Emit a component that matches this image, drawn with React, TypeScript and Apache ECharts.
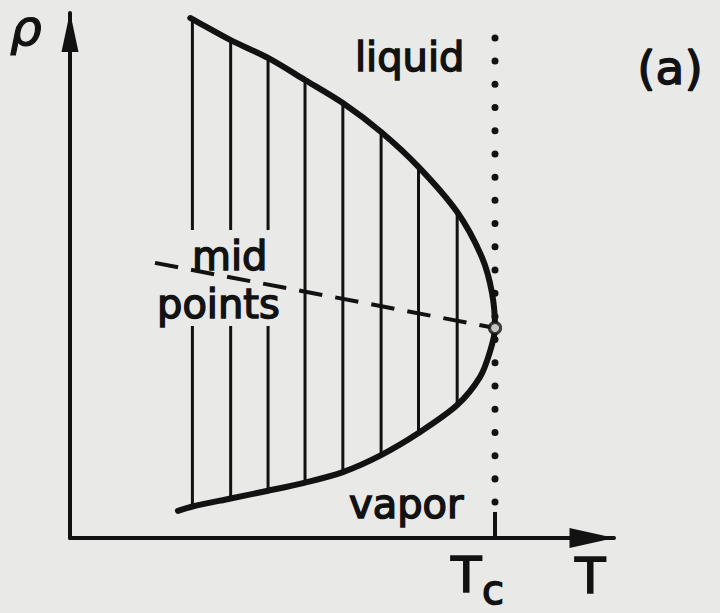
import React, { useEffect, useRef } from "react";
import * as echarts from "echarts";

// Reduced temperature / density of the coexistence diagram
const TC = 1.0;
const RHO_C = 1.0;

// Tie lines (isotherms inside the two-phase region)
const tieT = [0.288, 0.378, 0.466, 0.553, 0.642, 0.732, 0.82, 0.911];
const tieLiquid = [2.471, 2.371, 2.286, 2.181, 2.071, 1.933, 1.767, 1.552];
const tieVapor = [0.15, 0.188, 0.225, 0.264, 0.314, 0.395, 0.5, 0.633];

// Coexistence curve, liquid and vapor branches
const liquidT = [0.283, 0.288, 0.378, 0.466, 0.553, 0.642, 0.732, 0.82, 0.911, 0.969, 0.993, 1.0];
const liquidRho = [2.476, 2.471, 2.371, 2.286, 2.181, 2.071, 1.933, 1.767, 1.552, 1.338, 1.167, 1.0];
const vaporT = [0.254, 0.288, 0.378, 0.466, 0.553, 0.642, 0.732, 0.82, 0.911, 0.965, 0.988, 1.0];
const vaporRho = [0.129, 0.15, 0.188, 0.225, 0.264, 0.314, 0.395, 0.5, 0.633, 0.767, 0.886, 1.0];

// Line of mid-points (rectilinear diameter)
const diameterT = [0.2, 1.0];
const diameterRho = [1.31, 1.0];

// Dotted critical isotherm and its tick on the T axis
const dottedRho = [0.171, 2.386];
const tcTickRho = [0, 0.124];

const INK = "#121212";
const PAPER = "#e9e9e7";
const FONT = "DejaVu Sans";

export default function App() {
  const ref = useRef<HTMLDivElement>(null);

  useEffect(() => {
    if (!ref.current) return;
    const chart = echarts.init(ref.current, undefined, { renderer: "svg" });

    // one path: vapor branch up to the critical point, then back along the liquid branch
    const curve: number[][] = [];
    vaporT.forEach((t, i) => curve.push([t, vaporRho[i]]));
    for (let i = liquidT.length - 2; i >= 0; i--) curve.push([liquidT[i], liquidRho[i]]);

    const tieSeries = tieT.map((t, i) => ({
      type: "line",
      data: [
        [t, tieVapor[i]],
        [t, tieLiquid[i]],
      ],
      showSymbol: false,
      clip: false,
      lineStyle: { color: INK, width: 3 },
      z: 2,
    }));

    const textStyle = (size: number, extra: any = {}) => ({
      fontFamily: FONT,
      fontSize: size,
      fill: INK,
      stroke: INK,
      lineWidth: 1.5,
      textAlign: "left",
      textVerticalAlign: "middle",
      verticalAlign: "middle",
      ...extra,
    });

    chart.setOption({
      animation: false,
      backgroundColor: PAPER,
      grid: { left: 70, top: 13, width: 544, height: 525 },
      xAxis: {
        type: "value",
        min: 0,
        max: 1.28,
        splitLine: { show: false },
        axisTick: { show: false },
        axisLabel: { show: false },
        axisLine: {
          show: true,
          symbol: ["none", "triangle"],
          symbolSize: [20, 45],
          symbolOffset: [0, -22],
          lineStyle: { color: INK, width: 4 },
        },
      },
      yAxis: {
        type: "value",
        min: 0,
        max: 2.5,
        splitLine: { show: false },
        axisTick: { show: false },
        axisLabel: { show: false },
        axisLine: {
          show: true,
          symbol: ["none", "triangle"],
          symbolSize: [17, 40],
          symbolOffset: [0, -19],
          lineStyle: { color: INK, width: 4 },
        },
      },
      series: [
        {
          type: "line",
          data: curve,
          smooth: 0.3,
          showSymbol: false,
          clip: false,
          lineStyle: { color: INK, width: 6, cap: "round", join: "round" },
          z: 5,
        },
        ...tieSeries,
        {
          type: "line",
          data: [
            [diameterT[0], diameterRho[0]],
            [diameterT[1], diameterRho[1]],
          ],
          showSymbol: false,
          clip: false,
          lineStyle: { color: INK, width: 4, type: [23.5, 13.2] },
          z: 4,
        },
        {
          type: "line",
          data: [
            [TC, dottedRho[0]],
            [TC, dottedRho[1]],
          ],
          showSymbol: false,
          clip: false,
          lineStyle: { color: INK, width: 7, type: [0.01, 23.2], cap: "round" },
          z: 2,
        },
        {
          type: "line",
          data: [
            [TC, tcTickRho[0]],
            [TC, tcTickRho[1]],
          ],
          showSymbol: false,
          clip: false,
          lineStyle: { color: INK, width: 4 },
          z: 2,
        },
        {
          type: "scatter",
          data: [[TC, RHO_C]],
          symbol: "circle",
          symbolSize: 11,
          itemStyle: { color: "#f2f2f0", borderColor: INK, borderWidth: 3.2 },
          z: 6,
        },
      ],
      graphic: [
        { type: "text", z: 3, x: 10, y: 28, style: textStyle(50, { text: "ρ", fontStyle: "italic", lineWidth: 1.2 }) },
        { type: "text", z: 3, x: 355, y: 57, style: textStyle(40, { text: "liquid" }) },
        { type: "text", z: 3, x: 670, y: 67, style: textStyle(47, { text: "(a)", textAlign: "center" }) },
        {
          type: "text",
          z: 3,
          x: 189,
          y: 256,
          style: textStyle(40, { text: "mid", backgroundColor: PAPER, padding: [4, 3, 8, 3] }),
        },
        {
          type: "text",
          z: 3,
          x: 154,
          y: 304,
          style: textStyle(40, { text: "points", backgroundColor: PAPER, padding: [4, 3, 0, 3] }),
        },
        { type: "text", z: 3, x: 349, y: 504, style: textStyle(40, { text: "vapor" }) },
        { type: "text", z: 3, x: 451, y: 575, style: textStyle(50, { text: "T" }) },
        { type: "text", z: 3, x: 482, y: 590, style: textStyle(40, { text: "c" }) },
        { type: "text", z: 3, x: 575, y: 576, style: textStyle(50, { text: "T" }) },
      ],
    });

    return () => chart.dispose();
  }, []);

  return (
    <div
      ref={ref}
      style={{ position: "fixed", left: 0, top: 0, width: 720, height: 613 }}
    />
  );
}
